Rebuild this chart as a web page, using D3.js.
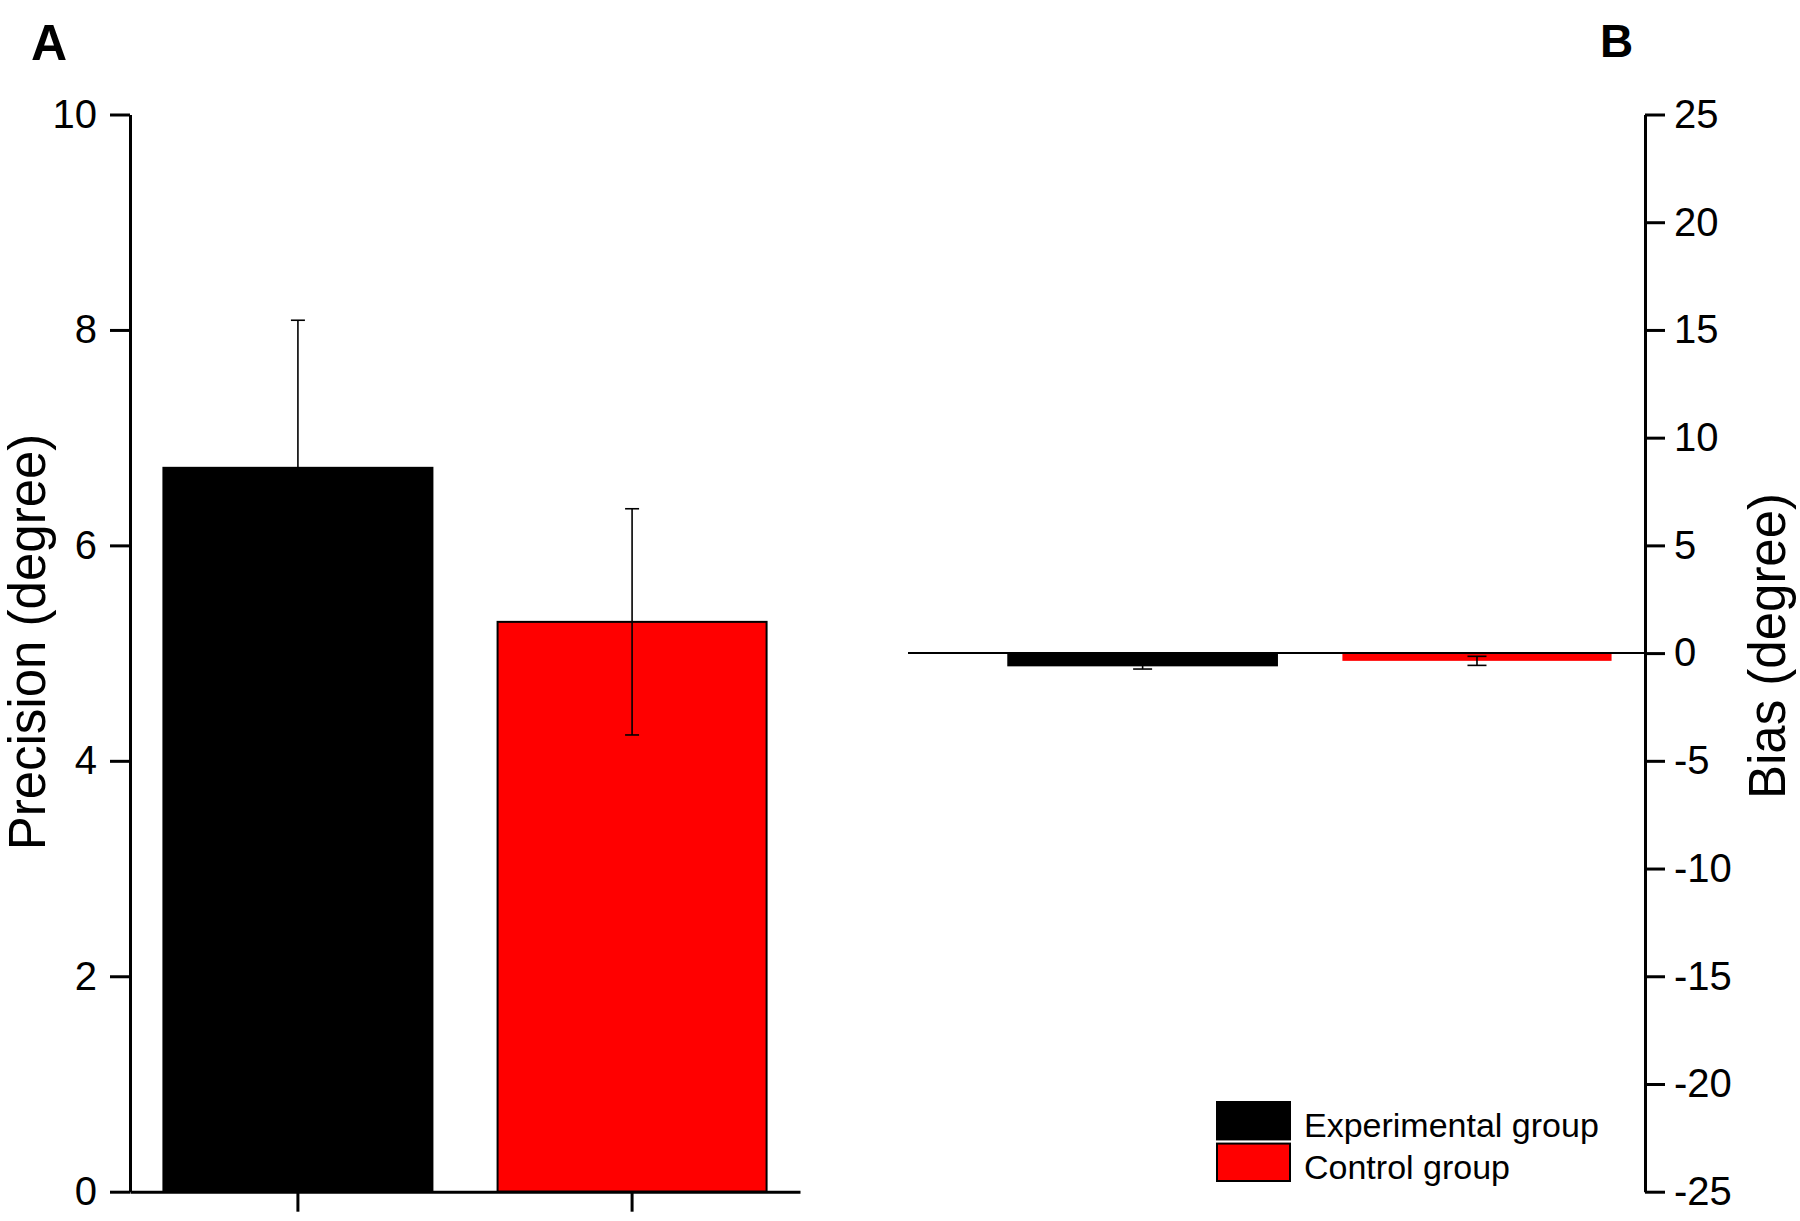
<!DOCTYPE html>
<html>
<head>
<meta charset="utf-8">
<script src="https://cdn.jsdelivr.net/npm/d3@7"></script>
<style>
  html, body { margin: 0; padding: 0; background: #fff; }
  svg { display: block; font-family: Arial, "Liberation Sans", Helvetica, sans-serif; }
</style>
</head>
<body>
<svg id="chart" width="1800" height="1221"></svg>
<script>
// ---- Data ----
const groups = ["Experimental group", "Control group"];
const groupColors = ["#000000", "#ff0000"];
const precisionValues = [6.72, 5.29];
const precisionErrors = [1.37, 1.05];
const biasValues = [-0.58, -0.36];
const biasErrors = [0.16, 0.21];
const precisionTicks = [0, 2, 4, 6, 8, 10];
const biasTicks = [-25, -20, -15, -10, -5, 0, 5, 10, 15, 20, 25];
const precisionLabel = "Precision (degree)";
const biasLabel = "Bias (degree)";
const panelLabels = ["A", "B"];

// ---- Layout ----
const svg = d3.select("#chart");
const yTop = 114.5, yBottom = 1191.7;
const plainFmt = d => String(d);

// ===== Panel A =====
const xA = d3.scaleBand().domain(groups).range([130, 800]).paddingInner(0.195).paddingOuter(0.1);
const yA = d3.scaleLinear().domain([0, 10]).range([yBottom, yTop]);

const gA = svg.append("g");
gA.selectAll("rect.bar").data(groups).join("rect")
  .attr("class", "bar")
  .attr("x", d => xA(d))
  .attr("width", xA.bandwidth())
  .attr("y", (d, i) => yA(precisionValues[i]))
  .attr("height", (d, i) => yA(0) - yA(precisionValues[i]))
  .attr("fill", (d, i) => groupColors[i])
  .attr("stroke", "#000").attr("stroke-width", 2);

// error bars A
const errA = gA.selectAll("g.err").data(groups).join("g").attr("class", "err")
  .attr("stroke", "#000").attr("stroke-width", 1.6).attr("fill", "none");
errA.append("line")
  .attr("x1", d => xA(d) + xA.bandwidth() / 2).attr("x2", d => xA(d) + xA.bandwidth() / 2)
  .attr("y1", (d, i) => yA(precisionValues[i] - precisionErrors[i]))
  .attr("y2", (d, i) => yA(precisionValues[i] + precisionErrors[i]));
[1, -1].forEach(s => {
  errA.append("line")
    .attr("x1", d => xA(d) + xA.bandwidth() / 2 - 7).attr("x2", d => xA(d) + xA.bandwidth() / 2 + 7)
    .attr("y1", (d, i) => yA(precisionValues[i] + s * precisionErrors[i]))
    .attr("y2", (d, i) => yA(precisionValues[i] + s * precisionErrors[i]));
});

// axes A
const axA_y = gA.append("g").attr("transform", "translate(130,0)")
  .call(d3.axisLeft(yA).tickValues(precisionTicks).tickSize(20).tickSizeOuter(0).tickPadding(13).tickFormat(plainFmt));
const axA_x = gA.append("g").attr("transform", `translate(0,${yBottom})`)
  .call(d3.axisBottom(xA).tickSize(20).tickSizeOuter(0).tickFormat(""));
[axA_y, axA_x].forEach(ax => {
  ax.select(".domain").attr("stroke", "#000").attr("stroke-width", 3);
  ax.selectAll(".tick line").attr("stroke", "#000").attr("stroke-width", 3);
  ax.selectAll(".tick text").attr("fill", "#000").style("font-size", "40px");
});

gA.append("text")
  .attr("transform", "translate(45,642) rotate(-90)")
  .attr("text-anchor", "middle")
  .style("font-size", "51px")
  .text(precisionLabel);

svg.append("text").attr("x", 31).attr("y", 60)
  .style("font-size", "50px").style("font-weight", "bold").text(panelLabels[0]);

// ===== Panel B =====
const xB = d3.scaleBand().domain(groups).range([974.6, 1645]).paddingInner(0.195).paddingOuter(0.1);
const yB = d3.scaleLinear().domain([-25, 25]).range([yBottom, yTop]);
const gB = svg.append("g");

gB.selectAll("rect.bar").data(groups).join("rect")
  .attr("class", "bar")
  .attr("x", d => xB(d))
  .attr("width", xB.bandwidth())
  .attr("y", (d, i) => yB(Math.max(0, biasValues[i])))
  .attr("height", (d, i) => Math.abs(yB(biasValues[i]) - yB(0)))
  .attr("fill", (d, i) => groupColors[i])
  .attr("stroke", (d, i) => i === 0 ? "#000" : "none").attr("stroke-width", 1.5);

// zero line
gB.append("line")
  .attr("x1", 908).attr("x2", 1645)
  .attr("y1", yB(0)).attr("y2", yB(0))
  .attr("stroke", "#000").attr("stroke-width", 2);

const errB = gB.selectAll("g.err").data(groups).join("g").attr("class", "err")
  .attr("stroke", "#000").attr("stroke-width", 1.6).attr("fill", "none");
errB.append("line")
  .attr("x1", d => xB(d) + xB.bandwidth() / 2).attr("x2", d => xB(d) + xB.bandwidth() / 2)
  .attr("y1", (d, i) => yB(biasValues[i] - biasErrors[i]))
  .attr("y2", (d, i) => yB(biasValues[i] + biasErrors[i]));
[1, -1].forEach(s => {
  errB.append("line")
    .attr("x1", d => xB(d) + xB.bandwidth() / 2 - 9.5).attr("x2", d => xB(d) + xB.bandwidth() / 2 + 9.5)
    .attr("y1", (d, i) => yB(biasValues[i] + s * biasErrors[i]))
    .attr("y2", (d, i) => yB(biasValues[i] + s * biasErrors[i]));
});

const axB_y = gB.append("g").attr("transform", "translate(1645,0)")
  .call(d3.axisRight(yB).tickValues(biasTicks).tickSize(20).tickSizeOuter(0).tickPadding(9).tickFormat(plainFmt));
axB_y.select(".domain").attr("stroke", "#000").attr("stroke-width", 3);
axB_y.selectAll(".tick line").attr("stroke", "#000").attr("stroke-width", 3);
axB_y.selectAll(".tick text").attr("fill", "#000").style("font-size", "40px");

gB.append("text")
  .attr("transform", "translate(1785,646) rotate(-90)")
  .attr("text-anchor", "middle")
  .style("font-size", "51px")
  .text(biasLabel);

svg.append("text").attr("x", 1600).attr("y", 57)
  .style("font-size", "46px").style("font-weight", "bold").text(panelLabels[1]);

// ---- Legend ----
const legendY = d3.scaleBand().domain(groups).range([1102, 1181]).paddingInner(0.1);
const leg = svg.append("g");
leg.selectAll("rect").data(groups).join("rect")
  .attr("x", 1217).attr("width", 73)
  .attr("y", d => legendY(d)).attr("height", legendY.bandwidth())
  .attr("fill", (d, i) => groupColors[i])
  .attr("stroke", "#000").attr("stroke-width", 2);
leg.selectAll("text").data(groups).join("text")
  .attr("x", 1304)
  .attr("y", d => legendY(d) + legendY.bandwidth() - 2)
  .style("font-size", "34px")
  .text(d => d);
</script>
</body>
</html>
